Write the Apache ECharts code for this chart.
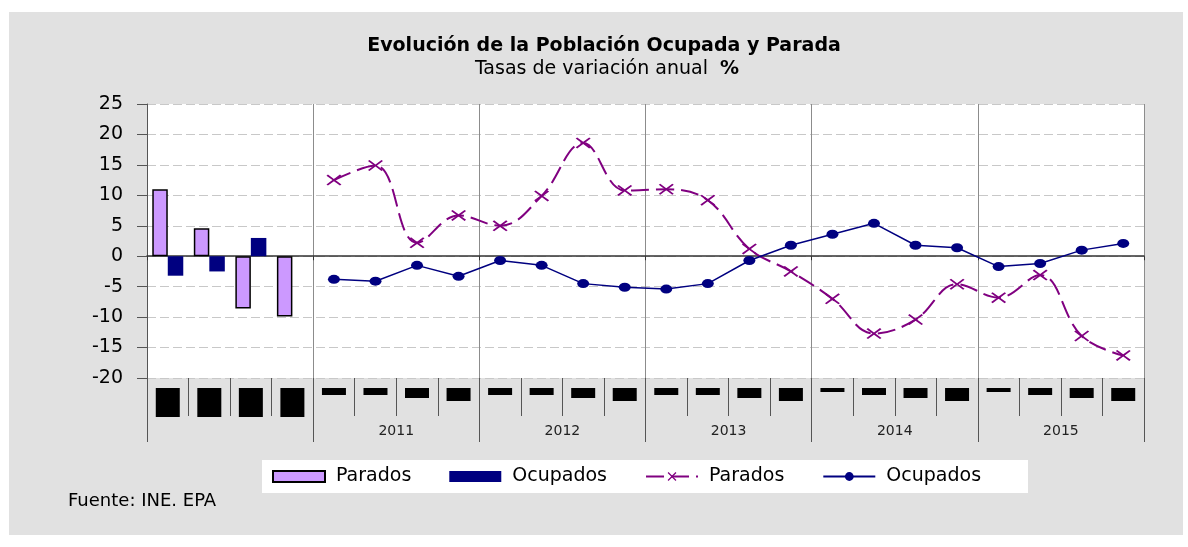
<!DOCTYPE html>
<html>
<head>
<meta charset="UTF-8">
<title>Evolución de la Población Ocupada y Parada</title>
<script src="https://cdn.jsdelivr.net/npm/echarts@6/dist/echarts.min.js"></script>
<style>
  body { margin: 0; background: #fff; }
  #main { position: absolute; left: 9px; top: 12px; width: 1174px; height: 523px; }
</style>
</head>
<body>
<div id="main"></div>
<script>
// medias anuales (barras) + trimestres 2011-2015 (lineas)
var categorias = ['Media 2012', 'Media 2013', 'Media 2014', 'Media 2015',
  '2011 I', '2011 II', '2011 III', '2011 IV',
  '2012 I', '2012 II', '2012 III', '2012 IV',
  '2013 I', '2013 II', '2013 III', '2013 IV',
  '2014 I', '2014 II', '2014 III', '2014 IV',
  '2015 I', '2015 II', '2015 III', '2015 IV'];
var anios = ['', '2011', '2012', '2013', '2014', '2015'];

var paradosAnual = [11.0, 4.6, -8.6, -9.9];
var ocupadosAnual = [-3.2, -2.5, 3.0, null];

var paradosTrim = [12.5, 14.9, 2.2, 6.7, 5.0, 9.9, 18.6, 10.8, 11.0, 9.2,
  1.2, -2.5, -7.0, -12.7, -10.4, -4.6, -6.8, -3.1, -13.1, -16.3];
var ocupadosTrim = [-3.8, -4.1, -1.5, -3.3, -0.7, -1.5, -4.5, -5.1, -5.4, -4.5,
  -0.7, 1.8, 3.6, 5.4, 1.8, 1.4, -1.7, -1.2, 1.0, 2.1];

var huecoTrim = [null, null, null, null];
var huecoAnual = paradosTrim.map(function () { return null; });

var fuente = 'DejaVu Sans';
var cruz = 'path://M0,1L1,0L5,4L9,0L10,1L6,5L10,9L9,10L5,6L1,10L0,9L4,5Z';

var myChart = echarts.init(document.getElementById('main'));

var option = {
  animation: false,
  backgroundColor: '#e1e1e1',
  textStyle: { fontFamily: fuente },
  title: [
    {
      text: 'Evolución de la Población Ocupada y Parada',
      left: 595, top: 23, padding: 0, textAlign: 'center',
      textStyle: { fontSize: 19, fontWeight: 'bold', color: '#000', fontFamily: fuente, lineHeight: 22 }
    },
    {
      text: 'Tasas de variación anual  {b|%}',
      left: 598, top: 46, padding: 0, textAlign: 'center',
      textStyle: {
        fontSize: 19, fontWeight: 'normal', color: '#000', fontFamily: fuente, lineHeight: 22,
        rich: { b: { fontSize: 19, fontWeight: 'bold', fontFamily: fuente } }
      }
    },
    {
      text: 'Fuente: INE. EPA',
      left: 59, top: 480, padding: 0,
      textStyle: { fontSize: 18, fontWeight: 'normal', color: '#000', fontFamily: fuente }
    }
  ],
  legend: {
    left: 253, top: 448,
    padding: [7, 47, 7, 10],
    backgroundColor: '#fff',
    itemWidth: 52, itemHeight: 11, itemGap: 38,
    formatter: function (n) {
      return '{t|' + n.split(' ')[0] + '}';
    },
    textStyle: {
      fontSize: 19, color: '#000', fontFamily: fuente,
      rich: {
        t: { padding: [0, 0, 0, 6], fontSize: 19, fontFamily: fuente }
      }
    },
    data: [
      { name: 'Parados anual', icon: 'rect' },
      { name: 'Ocupados anual', icon: 'rect' },
      { name: 'Parados trimestral' },
      { name: 'Ocupados trimestral' }
    ]
  },
  grid: {
    left: 138, right: 39, top: 92, bottom: 157,
    show: true, backgroundColor: '#fff', borderWidth: 0
  },
  xAxis: [
    {
      type: 'category', data: categorias, position: 'bottom',
      axisLine: { show: false, onZero: false },
      axisTick: { show: true, length: 38, lineStyle: { color: '#555' } },
      axisLabel: {
        interval: 0, margin: 10,
        formatter: function (v, i) {
          if (i < 4) return '{a| }';
          var q = (i - 4) % 4, y = Math.floor((i - 4) / 4);
          if (q === 0) return y >= 3 ? '{q0| }' : '{q1| }';
          return '{q' + (q + 1) + '| }';
        },
        rich: {
          a: { width: 24, height: 29, backgroundColor: '#000', fontSize: 1, lineHeight: 29 },
          q0: { width: 24, height: 4, backgroundColor: '#000', fontSize: 1, lineHeight: 4 },
          q1: { width: 24, height: 7, backgroundColor: '#000', fontSize: 1, lineHeight: 7 },
          q2: { width: 24, height: 7, backgroundColor: '#000', fontSize: 1, lineHeight: 7 },
          q3: { width: 24, height: 10, backgroundColor: '#000', fontSize: 1, lineHeight: 10 },
          q4: { width: 24, height: 13, backgroundColor: '#000', fontSize: 1, lineHeight: 13 }
        }
      },
      splitLine: { show: false }
    },
    {
      type: 'category', data: anios, position: 'bottom',
      axisLine: { show: false, onZero: false },
      axisTick: { show: true, length: 64, lineStyle: { color: '#555' } },
      axisLabel: { margin: 46, fontSize: 14, color: '#222' },
      splitLine: { show: true, lineStyle: { color: '#8c8c8c', width: 1 } }
    },
    {
      type: 'category', data: anios, position: 'bottom',
      axisLine: { show: true, onZero: true, lineStyle: { color: '#333', width: 1.5 } },
      axisTick: { show: true, length: 4, lineStyle: { color: '#333' } },
      axisLabel: { show: false },
      splitLine: { show: false }
    }
  ],
  yAxis: {
    type: 'value', min: -20, max: 25, interval: 5,
    axisLine: { show: true, onZero: false, lineStyle: { color: '#555' } },
    axisTick: { show: true, length: 10, lineStyle: { color: '#555' } },
    axisLabel: { fontSize: 19, color: '#000', margin: 24 },
    splitLine: { show: true, lineStyle: { color: '#c8c8c8', type: [9, 4] } }
  },
  series: [
    {
      name: 'Parados anual', type: 'bar', xAxisIndex: 0,
      data: paradosAnual.concat(huecoAnual),
      barWidth: 15.5, barGap: '0%',
      itemStyle: { color: '#cc99ff', borderColor: '#000', borderWidth: 1.5 }
    },
    {
      name: 'Ocupados anual', type: 'bar', xAxisIndex: 0,
      data: ocupadosAnual.concat(huecoAnual),
      barWidth: 15.5, barGap: '0%',
      itemStyle: { color: '#000080' }
    },
    {
      name: 'Parados trimestral', type: 'line', xAxisIndex: 0,
      data: huecoTrim.concat(paradosTrim),
      smooth: 0.4,
      symbol: cruz, symbolSize: [15, 11],
      lineStyle: { color: '#800080', width: 2, type: [18, 7] },
      itemStyle: { color: '#800080' },
      z: 3
    },
    {
      name: 'Ocupados trimestral', type: 'line', xAxisIndex: 0,
      data: huecoTrim.concat(ocupadosTrim),
      symbol: 'circle', symbolSize: [12, 9],
      lineStyle: { color: '#000080', width: 1.5 },
      itemStyle: { color: '#000080' },
      z: 4
    }
  ]
};

myChart.setOption(option);
</script>
</body>
</html>
